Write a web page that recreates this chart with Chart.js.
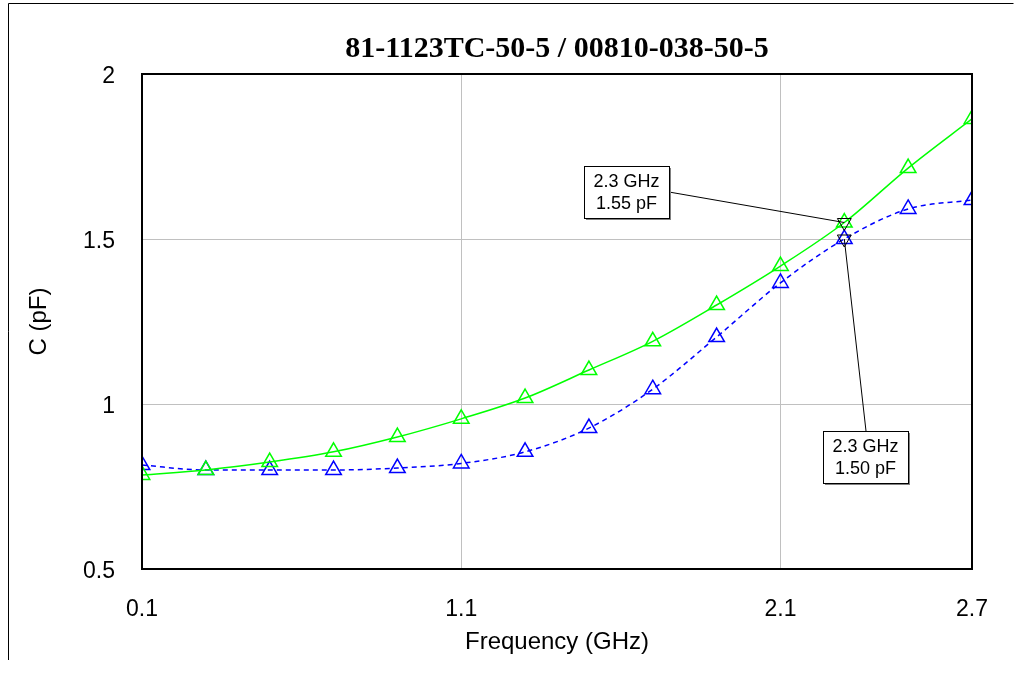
<!DOCTYPE html>
<html>
<head>
<meta charset="utf-8">
<script src="https://cdn.jsdelivr.net/npm/chart.js@4/dist/chart.umd.min.js"></script>
<style>
  html, body { margin: 0; padding: 0; background: #fff; }
  #wrap { width: 1015px; height: 679px; }
</style>
</head>
<body>
<div id="wrap"><canvas id="capChart" width="1015" height="679"></canvas></div>
<script>
// Chart data
const chartTitle = '81-1123TC-50-5 / 00810-038-50-5';
const freqGHz = [0.1, 0.3, 0.5, 0.7, 0.9, 1.1, 1.3, 1.5, 1.7, 1.9, 2.1, 2.3, 2.5, 2.7];
const capGreen = [0.785, 0.80, 0.824, 0.855, 0.90, 0.955, 1.018, 1.103, 1.19, 1.30, 1.418, 1.55, 1.715, 1.864];
const capBlue = [0.815, 0.80, 0.80, 0.80, 0.806, 0.82, 0.855, 0.927, 1.045, 1.203, 1.367, 1.50, 1.591, 1.618];
const xTickValues = [0.1, 1.1, 2.1, 2.7];
const yTickValues = [0.5, 1, 1.5, 2];
const markerFreq = 2.3;
const markerGreen = 1.55;
const markerBlue = 1.50;

function toPoints(xs, ys) {
    return xs.map((x, i) => ({ x: x, y: ys[i] }));
}

// frame, title, plot border, and the two marker boxes
const markerPlugin = {
    id: 'markerPlugin',
    beforeDraw(chart) {
        const ctx = chart.ctx;
        const area = chart.chartArea;
        ctx.save();
        ctx.fillStyle = '#fff';
        ctx.fillRect(0, 0, chart.width, chart.height);
        // outer frame
        ctx.strokeStyle = '#000';
        ctx.lineWidth = 1;
        ctx.beginPath();
        ctx.moveTo(8.5, 660);
        ctx.lineTo(8.5, 3.5);
        ctx.lineTo(1013.5, 3.5);
        ctx.stroke();
        // title
        ctx.fillStyle = '#000';
        ctx.font = 'bold 30px "Liberation Serif", "Times New Roman", serif';
        ctx.textAlign = 'center';
        ctx.textBaseline = 'middle';
        ctx.fillText(chartTitle, (area.left + area.right) / 2, 49);
        ctx.restore();
    },
    afterDatasetsDraw(chart) {
        const ctx = chart.ctx;
        const xs = chart.scales.x, ys = chart.scales.y;
        const area = chart.chartArea;
        ctx.save();
        // plot border
        ctx.strokeStyle = '#000';
        ctx.lineWidth = 2;
        ctx.strokeRect(area.left, area.top, area.right - area.left, area.bottom - area.top);

        const px = xs.getPixelForValue(markerFreq);
        const pg = ys.getPixelForValue(markerGreen);
        const pb = ys.getPixelForValue(markerBlue);

        // leader lines
        ctx.lineWidth = 1;
        ctx.beginPath();
        ctx.moveTo(669, 192);
        ctx.lineTo(px, pg);
        ctx.moveTo(866, 431);
        ctx.lineTo(px, pb);
        ctx.stroke();

        // inverted cursor triangles
        [pg, pb].forEach(py => {
            const r = 8;
            ctx.beginPath();
            ctx.moveTo(px - r * 0.866, py - r * 0.5);
            ctx.lineTo(px + r * 0.866, py - r * 0.5);
            ctx.lineTo(px, py + r);
            ctx.closePath();
            ctx.stroke();
        });

        // label boxes
        const boxes = [
            { x: 584, y: 166, w: 85, h: 52, lines: [markerFreq + ' GHz', markerGreen.toFixed(2) + ' pF'] },
            { x: 823, y: 431, w: 85, h: 52, lines: [markerFreq + ' GHz', markerBlue.toFixed(2) + ' pF'] }
        ];
        boxes.forEach(b => {
            ctx.fillStyle = '#808080';
            ctx.fillRect(b.x + 2, b.y + 2, b.w, b.h);
            ctx.fillStyle = '#fff';
            ctx.fillRect(b.x, b.y, b.w, b.h);
            ctx.strokeStyle = '#000';
            ctx.lineWidth = 1;
            ctx.strokeRect(b.x + 0.5, b.y + 0.5, b.w, b.h);
            ctx.fillStyle = '#000';
            ctx.font = '18px "Liberation Sans", Arial, sans-serif';
            ctx.textAlign = 'center';
            ctx.textBaseline = 'middle';
            ctx.fillText(b.lines[0], b.x + b.w / 2, b.y + 16);
            ctx.fillText(b.lines[1], b.x + b.w / 2, b.y + 38);
        });
        ctx.restore();
    }
};

document.addEventListener('DOMContentLoaded', function () {
    const ctx = document.getElementById('capChart').getContext('2d');
    const sansFont = '"Liberation Sans", Arial, sans-serif';

    new Chart(ctx, {
        type: 'line',
        data: {
            datasets: [{
                label: '81-1123TC-50-5',
                data: toPoints(freqGHz, capGreen),
                borderColor: '#00ff00',
                borderWidth: 1.5,
                pointStyle: 'triangle',
                pointRadius: 9,
                pointBorderWidth: 1.5,
                pointBorderColor: '#00ff00',
                pointBackgroundColor: 'rgba(0,0,0,0)',
                cubicInterpolationMode: 'monotone',
                fill: false
            }, {
                label: '00810-038-50-5',
                data: toPoints(freqGHz, capBlue),
                borderColor: '#0000ff',
                borderWidth: 1.5,
                borderDash: [5, 4],
                pointStyle: 'triangle',
                pointRadius: 9,
                pointBorderWidth: 1.5,
                pointBorderColor: '#0000ff',
                pointBackgroundColor: 'rgba(0,0,0,0)',
                cubicInterpolationMode: 'monotone',
                fill: false
            }]
        },
        options: {
            responsive: false,
            animation: false,
            devicePixelRatio: 1,
            layout: { padding: { top: 74, right: 43, left: 0, bottom: 0 } },
            plugins: {
                legend: { display: false },
                tooltip: { enabled: false },
                title: { display: false }
            },
            scales: {
                x: {
                    type: 'linear',
                    min: 0.1,
                    max: 2.7,
                    afterBuildTicks: scale => { scale.ticks = xTickValues.map(v => ({ value: v })); },
                    afterFit: scale => { scale.height = 110; },
                    grid: { color: '#c0c0c0', lineWidth: 1, drawTicks: false },
                    border: { display: false },
                    ticks: {
                        color: '#000',
                        font: { family: sansFont, size: 23 },
                        padding: 27,
                        maxRotation: 0,
                        callback: v => v.toFixed(1)
                    },
                    title: {
                        display: true,
                        text: 'Frequency (GHz)',
                        color: '#000',
                        font: { family: sansFont, size: 24 },
                        padding: { top: 0, bottom: 22 }
                    }
                },
                y: {
                    type: 'linear',
                    min: 0.5,
                    max: 2,
                    afterBuildTicks: scale => { scale.ticks = yTickValues.map(v => ({ value: v })); },
                    afterFit: scale => { scale.width = 142; },
                    grid: { color: '#c0c0c0', lineWidth: 1, drawTicks: false },
                    border: { display: false },
                    ticks: {
                        color: '#000',
                        font: { family: sansFont, size: 23 },
                        padding: 27,
                        labelOffset: 3,
                        callback: v => String(v)
                    },
                    title: {
                        display: true,
                        text: 'C (pF)',
                        color: '#000',
                        font: { family: sansFont, size: 24 },
                        padding: { top: 25, bottom: 0 }
                    }
                }
            }
        },
        plugins: [markerPlugin]
    });
});
</script>
</body>
</html>
